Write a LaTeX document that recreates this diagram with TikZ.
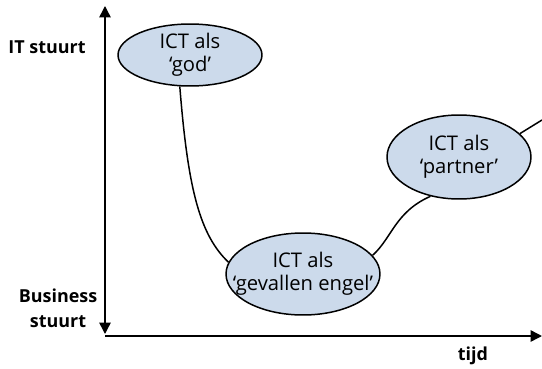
\documentclass[tikz,border=0pt]{standalone}
\usepackage{fontspec}
\setmainfont{Open Sans}
\usetikzlibrary{shapes.geometric,arrows.meta}
\definecolor{bolblauw}{RGB}{204,218,235}

\begin{document}
\begin{tikzpicture}[x=0.02cm,y=-0.02cm,>={Triangle[length=6.5pt,width=6.5pt]},
	fase/.style={ellipse,draw,line width=0.85pt,fill=bolblauw,inner sep=0pt,align=center,
		font=\fontsize{11.5}{13}\selectfont},
	as/.style={font=\bfseries\fontsize{10.2}{14}\selectfont,align=center},
	lijn/.style={line width=0.85pt}]
	\useasboundingbox (0,0) rectangle (542,369);

	% assen
	\coordinate (O) at (105,336);
	\coordinate (Ytop) at (105,6);
	\coordinate (Ybot) at (105,334);
	\coordinate (Xend) at (542,336);
	\draw[<->,line width=0.85pt] (Ytop) -- (Ybot);
	\draw[->,line width=0.85pt] (O) -- (Xend);

	\node[as] (it) at (47,47) {IT stuurt};
	\node[as] (bus) at (58,308) {Business\\stuurt};
	\node[as] (tijd) at (473,356) {tijd};

	% fases
	\node[fase,minimum width=2.88cm,minimum height=1.24cm] (god) at (190,55) {ICT als\\‘god’};
	\node[fase,inner xsep=-12pt,minimum width=3.08cm,minimum height=1.64cm] (engel) at (303,274) {ICT als\\‘gevallen engel’};
	\node[fase,minimum width=2.88cm,minimum height=1.68cm] (partner) at (459,157) {ICT als\\‘partner’};
	\coordinate (verder) at (542,120);

	\draw[lijn] (god.252) .. controls (188,190) and (200,235) .. (engel.171);
	\draw[lijn] (engel.15) .. controls (392,238) and (395,212) .. (partner.234);
	\draw[lijn] (partner.21) -- (verder);
\end{tikzpicture}
\end{document}
